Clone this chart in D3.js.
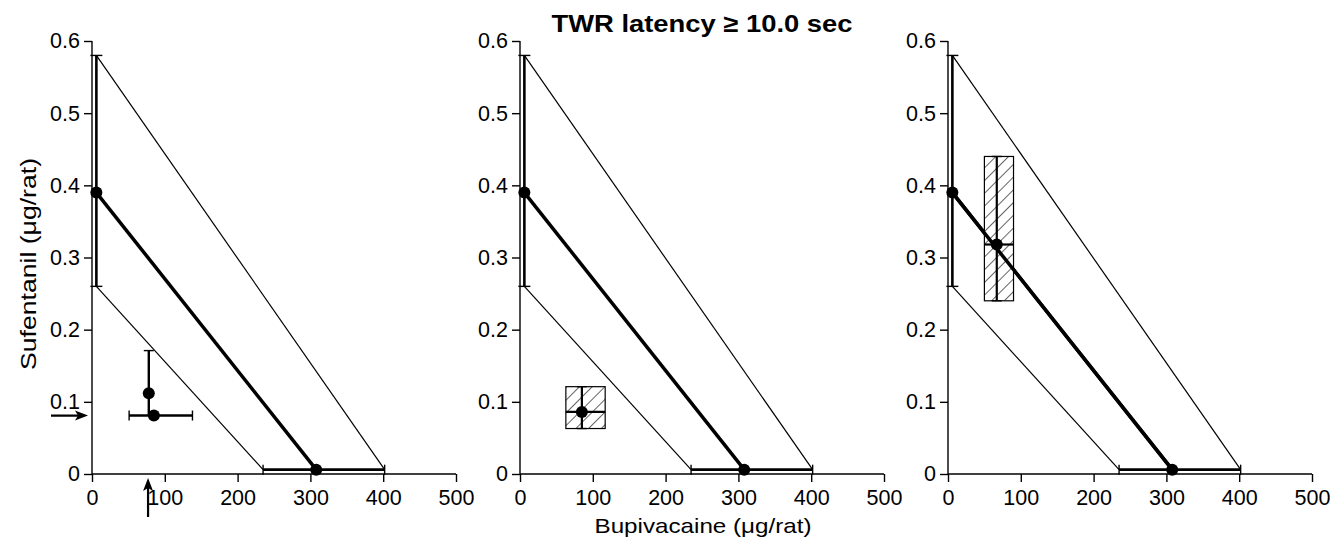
<!DOCTYPE html>
<html>
<head>
<meta charset="utf-8">
<script src="https://cdn.jsdelivr.net/npm/d3@7"></script>
<style>
  body { margin: 0; background: #fff; }
  svg { display: block; font-family: "Liberation Sans", Arial, Helvetica, sans-serif; }
</style>
</head>
<body>
<svg id="chart" width="1332" height="541"></svg>
<script>
const width = 1332;
const height = 541;

// tick values
const xTicks = [0, 100, 200, 300, 400, 500];
const yTicks = [0, 0.1, 0.2, 0.3, 0.4, 0.5, 0.6];

// isobole and its confidence limits (bupivacaine, sufentanil)
const isobole = [[6, 0.39], [308, 0.006]];
const upperLimit = [[6, 0.58], [402, 0.006]];
const lowerLimit = [[6, 0.26], [235, 0.006]];

// single-drug ED values with error bars
const sufentanilAlone = {x: 6, y: 0.39, yLo: 0.26, yHi: 0.58};
const bupivacaineAlone = {x: 308, y: 0.006, xLo: 235, xHi: 402};

// panel 1: components given separately
const panel1Points = [
  {x: 78, y: 0.112, yLo: 0.081, yHi: 0.171},
  {x: 85, y: 0.081, xLo: 51, xHi: 138}
];
const panel1Arrows = {y: 0.081, x: 77};

// panels 2 and 3: mixtures with error boxes
const mixtures = [
  null,
  {x: 85, y: 0.086, xLo: 63, xHi: 117, yLo: 0.063, yHi: 0.121},
  {x: 67, y: 0.318, xLo: 50, xHi: 90, yLo: 0.24, yHi: 0.44}
];

const panelLeft = [92, 520, 948];
const plotW = 364;
const plotTop = 41, plotBottom = 474;

const svg = d3.select("#chart");

var defs = svg.append("defs");
var pat = defs.append("pattern")
    .attr("id", "hatch")
    .attr("patternUnits", "userSpaceOnUse")
    .attr("width", 9)
    .attr("height", 9)
    .attr("patternTransform", "rotate(45)");
pat.append("rect").attr("width", 9).attr("height", 9).attr("fill", "#fff");
pat.append("line")
    .attr("x1", 0).attr("y1", 0).attr("x2", 0).attr("y2", 9)
    .attr("stroke", "#111").attr("stroke-width", 1.3);

var x = d3.scaleLinear().domain([0, 500]).range([0, plotW]);
var y = d3.scaleLinear().domain([0, 0.6]).range([plotBottom, plotTop]);

var line = d3.line()
    .x(function (d) { return x(d[0]); })
    .y(function (d) { return y(d[1]); });

function vErr(g, xv, lo, hi, w, cap) {
  g.append("line")
      .attr("x1", x(xv)).attr("x2", x(xv))
      .attr("y1", y(lo)).attr("y2", y(hi))
      .attr("stroke", "#000").attr("stroke-width", w);
  [lo, hi].forEach(function (v) {
    if (cap) g.append("line")
        .attr("x1", x(xv) - cap).attr("x2", x(xv) + cap)
        .attr("y1", y(v)).attr("y2", y(v))
        .attr("stroke", "#000").attr("stroke-width", 1.4);
  });
}

function hErr(g, yv, lo, hi, w, cap) {
  g.append("line")
      .attr("x1", x(lo)).attr("x2", x(hi))
      .attr("y1", y(yv)).attr("y2", y(yv))
      .attr("stroke", "#000").attr("stroke-width", w);
  [lo, hi].forEach(function (v) {
    if (cap) g.append("line")
        .attr("x1", x(v)).attr("x2", x(v))
        .attr("y1", y(yv) - cap).attr("y2", y(yv) + cap)
        .attr("stroke", "#000").attr("stroke-width", 1.4);
  });
}

function dot(g, xv, yv) {
  g.append("circle")
      .attr("cx", x(xv)).attr("cy", y(yv)).attr("r", 6)
      .attr("fill", "#000");
}

panelLeft.forEach(function (left, i) {
  var g = svg.append("g").attr("transform", "translate(" + left + ",0)");

  // axes
  var xAxis = g.append("g")
      .attr("transform", "translate(0," + plotBottom + ")")
      .call(d3.axisBottom(x).tickValues(xTicks).tickSize(8).tickPadding(8).tickFormat(d3.format("d")));
  var yAxis = g.append("g")
      .call(d3.axisLeft(y).tickValues(yTicks).tickSize(8).tickPadding(4)
        .tickFormat(function (d) { return d === 0 ? "0" : d3.format(".1f")(d); }));
  [xAxis, yAxis].forEach(function (a) {
    a.select(".domain").attr("stroke-width", 1.4);
    a.selectAll(".tick line").attr("stroke-width", 1.4);
    a.selectAll("text").attr("font-size", 21.5).attr("fill", "#000")
        .attr("font-family", "Liberation Sans, Arial, sans-serif");
  });
  xAxis.select(".domain").attr("d", "M0,0H" + plotW);
  yAxis.select(".domain").attr("d", "M0," + plotBottom + "V" + plotTop);

  // confidence limits
  g.append("path").datum(upperLimit).attr("d", line)
      .attr("fill", "none").attr("stroke", "#000").attr("stroke-width", 1.2);
  g.append("path").datum(lowerLimit).attr("d", line)
      .attr("fill", "none").attr("stroke", "#000").attr("stroke-width", 1.2);

  // error bars of single drugs
  vErr(g, sufentanilAlone.x, sufentanilAlone.yLo, sufentanilAlone.yHi, 2.6, 6);
  hErr(g, bupivacaineAlone.y, bupivacaineAlone.xLo, bupivacaineAlone.xHi, 2.6, 5);

  // isobole
  g.append("path").datum(isobole).attr("d", line)
      .attr("fill", "none").attr("stroke", "#000").attr("stroke-width", 3.5);
  dot(g, sufentanilAlone.x, sufentanilAlone.y);
  dot(g, bupivacaineAlone.x, bupivacaineAlone.y);

  if (i === 0) {
    var p1 = panel1Points[0], p2 = panel1Points[1];
    g.append("line")
        .attr("x1", x(p1.x)).attr("x2", x(p1.x))
        .attr("y1", y(p1.yLo)).attr("y2", y(p1.yHi))
        .attr("stroke", "#000").attr("stroke-width", 2.4);
    g.append("line")
        .attr("x1", x(p1.x) - 5).attr("x2", x(p1.x) + 5)
        .attr("y1", y(p1.yHi)).attr("y2", y(p1.yHi))
        .attr("stroke", "#000").attr("stroke-width", 1.4);
    hErr(g, p2.y, p2.xLo, p2.xHi, 2.4, 5);
    dot(g, p1.x, p1.y);
    dot(g, p2.x, p2.y);

    // arrows
    var ay = y(panel1Arrows.y), ax = x(panel1Arrows.x);
    g.append("line").attr("x1", -41).attr("x2", -8).attr("y1", ay).attr("y2", ay)
        .attr("stroke", "#000").attr("stroke-width", 2.2);
    g.append("path").attr("d", "M-4," + ay + "L-17," + (ay - 5) + "L-14," + ay + "L-17," + (ay + 5) + "Z")
        .attr("fill", "#000");
    g.append("line").attr("x1", ax).attr("x2", ax).attr("y1", plotBottom + 43).attr("y2", plotBottom + 10)
        .attr("stroke", "#000").attr("stroke-width", 2.2);
    g.append("path").attr("d", "M" + ax + "," + (plotBottom + 4) + "L" + (ax - 5) + "," + (plotBottom + 17) +
        "L" + ax + "," + (plotBottom + 14) + "L" + (ax + 5) + "," + (plotBottom + 17) + "Z")
        .attr("fill", "#000");
  } else {
    var m = mixtures[i];
    g.append("rect")
        .attr("x", x(m.xLo)).attr("y", y(m.yHi))
        .attr("width", x(m.xHi) - x(m.xLo)).attr("height", y(m.yLo) - y(m.yHi))
        .attr("fill", "url(#hatch)").attr("stroke", "#000").attr("stroke-width", 1.2);
    vErr(g, m.x, m.yLo, m.yHi, 2.2, 5);
    hErr(g, m.y, m.xLo, m.xHi, 2.2, 0);
    if (i === 2) {
      // isobole passes over the box
      g.append("path").datum(isobole).attr("d", line)
          .attr("fill", "none").attr("stroke", "#000").attr("stroke-width", 3.5);
    }
    dot(g, m.x, m.y);
  }
});

// title and axis labels
svg.append("text")
    .attr("x", 702).attr("y", 32)
    .attr("text-anchor", "middle")
    .attr("font-size", 24.5).attr("font-weight", "bold")
    .attr("textLength", 301).attr("lengthAdjust", "spacingAndGlyphs")
    .text("TWR latency \u2265 10.0 sec");

svg.append("text")
    .attr("x", 703).attr("y", 533)
    .attr("text-anchor", "middle")
    .attr("font-size", 21)
    .attr("textLength", 217).attr("lengthAdjust", "spacingAndGlyphs")
    .text("Bupivacaine (\u03bcg/rat)");

svg.append("text")
    .attr("transform", "translate(36,264) rotate(-90)")
    .attr("text-anchor", "middle")
    .attr("font-size", 21.5)
    .attr("textLength", 212).attr("lengthAdjust", "spacingAndGlyphs")
    .text("Sufentanil (\u03bcg/rat)");
</script>
</body>
</html>
